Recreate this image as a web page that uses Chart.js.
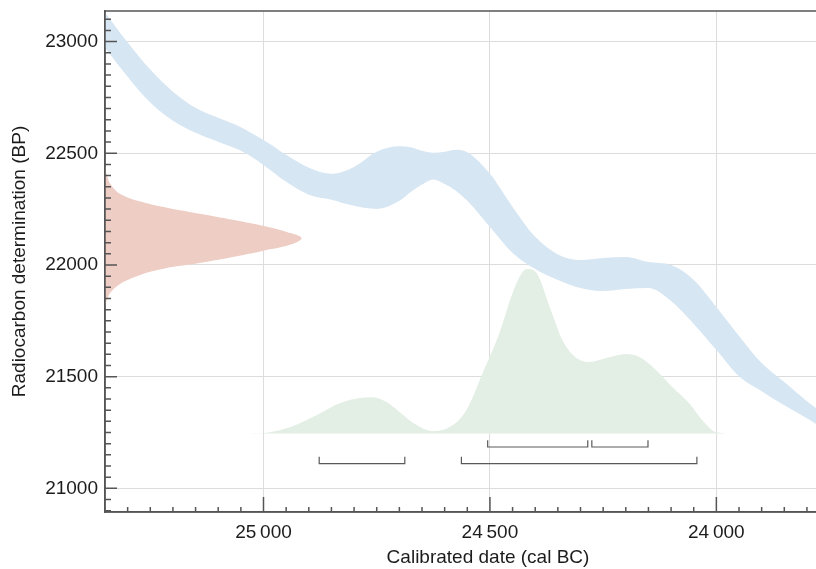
<!DOCTYPE html>
<html>
<head>
<meta charset="utf-8">
<title>Radiocarbon calibration</title>
<script src="https://cdn.jsdelivr.net/npm/chart.js@4/dist/chart.umd.min.js"></script>
<style>
  body { margin: 0; background: #fff; overflow: hidden; }
  #wrap { width: 816px; height: 569px; position: relative; }
</style>
</head>
<body>
<div id="wrap"><canvas id="myChart"></canvas></div>
<script>
// calibration curve band, cal BC vs BP
let calDates = [25350, 25300, 25250, 25200, 25150, 25100, 25050, 25000, 24950, 24900, 24850, 24800,
  24750, 24700, 24675, 24650, 24625, 24600, 24575, 24550, 24500, 24450, 24400, 24350, 24300,
  24250, 24200, 24150, 24100, 24050, 24000, 23950, 23900, 23850, 23800, 23760];
let calUpper = [23130, 22996, 22875, 22776, 22704, 22659, 22617, 22559, 22493, 22435, 22408, 22439,
  22507, 22531, 22527, 22511, 22502, 22507, 22516, 22505, 22408, 22260, 22126, 22047, 22022,
  22031, 22036, 22013, 22000, 21933, 21812, 21682, 21561, 21476, 21390, 21330];
let calLower = [22973, 22843, 22727, 22646, 22592, 22552, 22511, 22448, 22372, 22314, 22292, 22265,
  22251, 22287, 22327, 22360, 22383, 22363, 22332, 22287, 22170, 22054, 21982, 21933, 21897,
  21883, 21892, 21897, 21839, 21736, 21619, 21502, 21435, 21372, 21314, 21262];

// measured radiocarbon date, drawn sideways off the BP axis
let c14BP = [22448, 22404, 22359, 22314, 22278, 22256, 22229, 22202, 22175, 22148, 22121,
  22090, 22063, 22036, 22009, 21978, 21933, 21888, 21843, 21798];
let c14Edge = [25350, 25346, 25337, 25313, 25262, 25213, 25141, 25068, 25002, 24949, 24916,
  24942, 25002, 25068, 25141, 25234, 25300, 25333, 25346, 25350];

// calibrated date distribution
let postDates = [25035, 24986, 24942, 24883, 24832, 24788, 24759, 24728, 24699, 24662, 24627,
  24589, 24552, 24516, 24479, 24450, 24428, 24417, 24397, 24368, 24340, 24309, 24280, 24243,
  24199, 24170, 24133, 24097, 24060, 24031, 24000, 23956, 23930];
let postValues = [21245, 21251, 21273, 21327, 21381, 21404, 21408, 21386, 21341, 21283, 21256,
  21274, 21350, 21516, 21695, 21875, 21969, 21982, 21964, 21812, 21664, 21583, 21565, 21583,
  21601, 21588, 21529, 21453, 21381, 21305, 21251, 21245, 21245];
let postBase = 21245;

// highest density ranges
let range68 = [[24505, 24284], [24275, 24151]];
let range95 = [[24877, 24688], [24563, 24043]];
let range68Level = 21185;
let range95Level = 21111;
let rangeTick = 30;

let xTicks = [25000, 24500, 24000];
let yTicks = [21000, 21500, 22000, 22500, 23000];
let xTitle = 'Calibrated date (cal BC)';
let yTitle = 'Radiocarbon determination (BP)';

let fontFamily = "'Liberation Sans', Arial, sans-serif";
let axisColor = '#555555';
let textColor = '#1c1c1c';

function toPoints(xs, ys) {
  let pts = [];
  for (let i = 0; i < xs.length; i++) {
    pts.push({ x: xs[i], y: ys[i] });
  }
  return pts;
}

function bracket(r, level) {
  return {
    data: [
      { x: r[0], y: level + rangeTick },
      { x: r[0], y: level },
      { x: r[1], y: level },
      { x: r[1], y: level + rangeTick }
    ],
    showLine: true,
    borderColor: '#5a5a5a',
    borderWidth: 1.2,
    pointRadius: 0,
    tension: 0,
    fill: false
  };
}

// frame on top/left/bottom, inward major and minor ticks, x title
let frameTicks = {
  id: 'frameTicks',
  afterDatasetsDraw(chart) {
    let ctx = chart.ctx;
    let a = chart.chartArea;
    let x = chart.scales.x;
    let y = chart.scales.y;
    let w = chart.width;
    ctx.save();
    ctx.strokeStyle = axisColor;
    ctx.lineWidth = 1.5;
    ctx.beginPath();
    ctx.moveTo(w, a.top);
    ctx.lineTo(a.left, a.top);
    ctx.lineTo(a.left, a.bottom);
    ctx.lineTo(w, a.bottom);
    for (let v = Math.ceil(y.min / 50) * 50; v <= y.max; v += 50) {
      let p = y.getPixelForValue(v);
      let len = v % 500 === 0 ? 12 : 6;
      ctx.moveTo(a.left, p);
      ctx.lineTo(a.left + len, p);
    }
    for (let v = Math.ceil(x.min / 50) * 50; v <= x.max; v += 50) {
      let p = x.getPixelForValue(v);
      if (p > w) continue;
      let len = v % 500 === 0 ? 15 : 5;
      ctx.moveTo(p, a.bottom);
      ctx.lineTo(p, a.bottom - len);
    }
    ctx.stroke();
    ctx.fillStyle = textColor;
    ctx.font = '19px ' + fontFamily;
    ctx.textAlign = 'center';
    ctx.textBaseline = 'middle';
    ctx.fillText(xTitle, a.left + 383, 558);
    ctx.restore();
  }
};

let datasets = [
  {
    data: toPoints(postDates, postValues),
    showLine: true,
    borderWidth: 0,
    pointRadius: 0,
    backgroundColor: '#e3eee5',
    cubicInterpolationMode: 'monotone',
    fill: { value: postBase }
  },
  {
    data: toPoints(calDates, calUpper),
    showLine: true,
    borderWidth: 0,
    pointRadius: 0,
    backgroundColor: '#d7e6f3',
    cubicInterpolationMode: 'monotone',
    fill: '+1'
  },
  {
    data: toPoints(calDates, calLower),
    showLine: true,
    borderWidth: 0,
    pointRadius: 0,
    cubicInterpolationMode: 'monotone',
    fill: false
  },
  {
    data: toPoints(c14Edge, c14BP),
    showLine: true,
    borderWidth: 0,
    pointRadius: 0,
    backgroundColor: '#eecdc4',
    tension: 0.4,
    fill: 'shape'
  }
];
range68.forEach(r => datasets.push(bracket(r, range68Level)));
range95.forEach(r => datasets.push(bracket(r, range95Level)));

Chart.defaults.font.family = fontFamily;

const ctx = document.getElementById('myChart').getContext('2d');
const myChart = new Chart(ctx, {
  type: 'scatter',
  data: { datasets: datasets },
  plugins: [frameTicks],
  options: {
    responsive: true,
    maintainAspectRatio: false,
    animation: false,
    layout: { padding: { top: 11, right: 0, bottom: 0, left: 0 } },
    plugins: {
      legend: { display: false },
      tooltip: { enabled: false }
    },
    scales: {
      x: {
        type: 'linear',
        reverse: true,
        min: 23780,
        max: 25350,
        afterFit(scale) {
          scale.height = 57;
          scale.paddingLeft = 0;
          scale.paddingRight = 0;
        },
        afterBuildTicks(scale) { scale.ticks = xTicks.map(v => ({ value: v })); },
        grid: { color: '#dcdcdc', drawTicks: false },
        border: { color: axisColor, width: 1.5 },
        ticks: {
          padding: 9,
          maxRotation: 0,
          autoSkip: false,
          color: textColor,
          font: { size: 19 },
          callback: v => String(v).replace(/(\d+)(\d{3})$/, '$1\u2009$2')
        }
      },
      y: {
        type: 'linear',
        min: 20894,
        max: 23137,
        afterFit(scale) {
          scale.width = 105;
          scale.paddingTop = 0;
          scale.paddingBottom = 0;
        },
        afterBuildTicks(scale) { scale.ticks = yTicks.map(v => ({ value: v })); },
        grid: { color: '#dcdcdc', drawTicks: false },
        border: { color: axisColor, width: 1.5 },
        ticks: {
          padding: 7,
          color: textColor,
          font: { size: 19 },
          callback: v => String(v)
        },
        title: {
          display: true,
          text: yTitle,
          color: textColor,
          font: { size: 19 },
          padding: { top: 8, bottom: 0 }
        }
      }
    }
  }
});
</script>
</body>
</html>
